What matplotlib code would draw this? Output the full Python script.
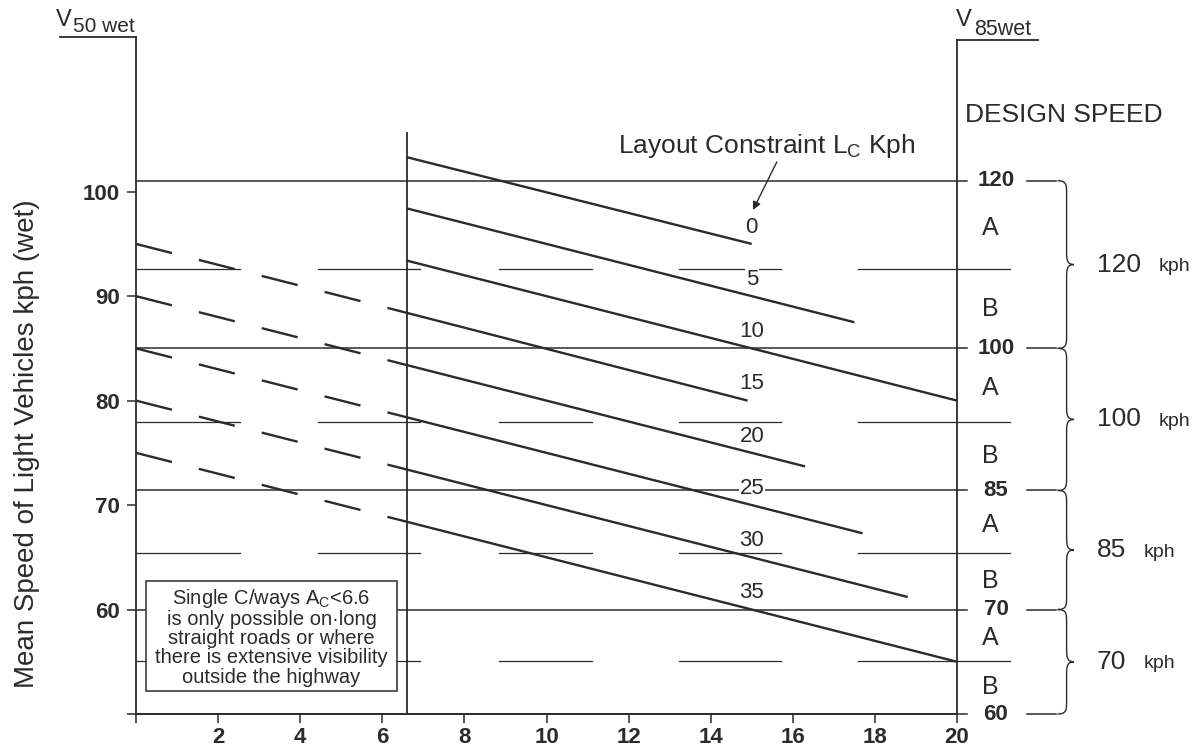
import matplotlib
matplotlib.use('Agg')
import matplotlib.pyplot as plt
from matplotlib.path import Path
from matplotlib.patches import PathPatch, Rectangle
import numpy as np

plt.rcParams['font.family'] = ['Liberation Sans', 'DejaVu Sans']
plt.rcParams['mathtext.fontset'] = 'custom'
plt.rcParams['mathtext.rm'] = 'Liberation Sans'
plt.rcParams['mathtext.it'] = 'Liberation Sans:italic'
plt.rcParams['mathtext.bf'] = 'Liberation Sans:bold'

INK = '#2b2b2b'

# bottom axis: Ac, left axis: V50 wet
x_ticks = [0, 2, 4, 6, 8, 10, 12, 14, 16, 18, 20]
x_tick_labels = ['', '2', '4', '6', '8', '10', '12', '14', '16', '18', '20']
y_ticks = [50, 60, 70, 80, 90, 100]
y_tick_labels = ['', '60', '70', '80', '90', '100']
ac_limit = 6.6

# layout constraint lines Lc (kph)
lc_names = ['0', '5', '10', '15', '20', '25', '30', '35']
lc_v_at_limit = [103.3, 98.4, 93.4, 88.4, 83.4, 78.4, 73.4, 68.4]
lc_end_ac = [15.0, 17.5, 20.0, 14.9, 16.3, 17.7, 18.8, 20.0]
lc_end_v = [95.0, 87.5, 80.0, 80.0, 73.7, 67.3, 61.2, 55.0]
lc_v_at_zero = [None, None, None, 95.0, 90.0, 85.0, 80.0, 75.0]

# design speed scale (V85 wet) read against V50 wet
design_speeds = ['120', '100', '85', '70', '60']
design_v50 = [101.05, 85.0, 71.4, 60.0, 50.0]
ab_v50 = [92.6, 78.0, 65.4, 55.1]
ab_seg_start = [0.0, 4.43, 8.84, 13.23, 17.6]
ab_seg_end = [2.53, 6.92, 11.1, 15.72, 21.3]
band_names = ['120', '100', '85', '70']


def draw_brace(ax, x0, y_top, y_bot, w=0.4, r=1.3):
    ym = (y_top + y_bot) / 2
    xv = x0 + w * 0.55
    verts = [(x0, y_top),
             (xv, y_top), (xv, y_top - 0.3 * r), (xv, y_top - r),
             (xv, ym + r),
             (xv, ym + 0.4 * r), (xv, ym), (x0 + w, ym),
             (xv, ym), (xv, ym - 0.4 * r), (xv, ym - r),
             (xv, y_bot + r),
             (xv, y_bot + 0.3 * r), (xv, y_bot), (x0, y_bot)]
    codes = [Path.MOVETO,
             Path.CURVE4, Path.CURVE4, Path.CURVE4,
             Path.LINETO,
             Path.CURVE4, Path.CURVE4, Path.CURVE4,
             Path.CURVE4, Path.CURVE4, Path.CURVE4,
             Path.LINETO,
             Path.CURVE4, Path.CURVE4, Path.CURVE4]
    ax.add_patch(PathPatch(Path(verts, codes), facecolor='none', edgecolor=INK,
                           lw=1.0, clip_on=False))


fig = plt.figure(figsize=(11.97, 7.5), dpi=100)
ax = fig.add_axes([136 / 1197, 36 / 750, 821 / 1197, 679 / 750])
ax.set_xlim(0, 20)
ax.set_ylim(50, 115)
for side in ['top', 'right']:
    ax.spines[side].set_visible(False)
for side in ['left', 'bottom']:
    ax.spines[side].set_color(INK)
    ax.spines[side].set_linewidth(1.3)
ax.spines['left'].set_bounds(50, 114.8)

ax.set_xticks(x_ticks, x_tick_labels)
ax.set_yticks(y_ticks, y_tick_labels)
ax.tick_params(direction='out', length=6.5, width=1.1, colors=INK, labelsize=16)
ax.tick_params(axis='x', pad=3)
ax.tick_params(axis='y', pad=5)
for lbl in ax.get_xticklabels() + ax.get_yticklabels():
    lbl.set_fontweight('bold')

# frame pieces
ax.plot([ac_limit, ac_limit], [50, 105.6], color=INK, lw=1.3)
ax.plot([20, 20], [50, 114.5], color=INK, lw=1.3, clip_on=False)
ax.plot([20, 21.97], [114.5, 114.5], color=INK, lw=1.3, clip_on=False)
ax.plot([-1.85, 0], [114.8, 114.8], color=INK, lw=1.3, clip_on=False)

# design speed boundaries and labels
for name, v in zip(design_speeds, design_v50):
    ax.plot([0, 20.25], [v, v], color=INK, lw=1.1, zorder=2, clip_on=False)
    ax.text(20.95, v, name, ha='center', va='center', fontsize=16,
            fontweight='bold', color=INK)
    ax.plot([21.7, 22.4], [v, v], color=INK, lw=1.1, clip_on=False)

# A / B split lines
for v in ab_v50:
    for s, e in zip(ab_seg_start, ab_seg_end):
        ax.plot([s, e], [v, v], color=INK, lw=0.9, zorder=2, clip_on=False)

for i, band in enumerate(band_names):
    top, bot = design_v50[i], design_v50[i + 1]
    ax.text(20.82, (top + ab_v50[i]) / 2 - 0.3, 'A', ha='center', va='center',
            fontsize=18, color=INK)
    ax.text(20.82, (ab_v50[i] + bot) / 2, 'B', ha='center', va='center',
            fontsize=18, color=INK)
    draw_brace(ax, 22.45, top, bot)
    num = ax.text(23.4, (top + bot) / 2, band, ha='left', va='center',
                  fontsize=19, color=INK)
    ax.annotate('kph', xy=(1, 0), xycoords=num, xytext=(13, 1),
                textcoords='offset points', ha='left', va='bottom',
                fontsize=14, color=INK)

# layout constraint lines
lw_main = 1.7
for name, v66, xe, ve, v0 in zip(lc_names, lc_v_at_limit, lc_end_ac,
                                 lc_end_v, lc_v_at_zero):
    xs = [ac_limit, xe]
    ys = [v66, ve]
    ax.plot(xs, ys, color=INK, lw=lw_main, zorder=4, solid_capstyle='butt')
    if v0 is not None:
        ax.plot([0, ac_limit], [v0, v66], color=INK, lw=lw_main, zorder=4,
                dashes=(26.7 / lw_main, 20.0 / lw_main))
    ly = np.interp(15.0, xs, ys) + 1.6
    ax.text(15.0, ly, name, ha='center', va='center', fontsize=16, color=INK,
            zorder=3, bbox=dict(facecolor='white', edgecolor='none', pad=0.5))

ax.text(15.37, 103.7, r'Layout Constraint L$_{\mathrm{C}}$ Kph', ha='center',
        va='baseline', fontsize=19, color=INK)
ax.annotate('', xy=(15.03, 98.25), xytext=(15.61, 102.84),
            arrowprops=dict(arrowstyle='-|>', color=INK, lw=1.0,
                            mutation_scale=12, shrinkA=0, shrinkB=0))

# note box
ax.add_patch(Rectangle((0.24, 52.2), 6.12, 10.53, facecolor='white',
                       edgecolor=INK, lw=1.1, zorder=5))
ax.text(3.3, 57.4,
        'Single C/ways A$_{\\mathrm{C}}$<6.6\nis only possible on·long\n'
        'straight roads or where\nthere is extensive visibility\n'
        'outside the highway',
        ha='center', va='center', fontsize=14.5, color=INK, linespacing=1.02,
        zorder=6)

# axis titles
ax.text(-1.95, 115.9, 'V', ha='left', va='baseline', fontsize=17, color=INK,
        clip_on=False)
ax.text(-1.53, 115.3, '50 wet', ha='left', va='baseline', fontsize=15,
        color=INK, clip_on=False)
ax.text(19.98, 115.9, 'V', ha='left', va='baseline', fontsize=17, color=INK,
        clip_on=False)
ax.text(20.41, 115.0, '85wet', ha='left', va='baseline', fontsize=15.5,
        color=INK, clip_on=False)
ax.text(20.2, 106.67, 'DESIGN SPEED', ha='left', va='baseline', fontsize=19,
        color=INK)
ax.text(-2.65, 75.9, 'Mean Speed of Light Vehicles kph (wet)', rotation=90,
        ha='center', va='center', fontsize=20, color=INK)

fig.savefig('out.png', dpi=100)
